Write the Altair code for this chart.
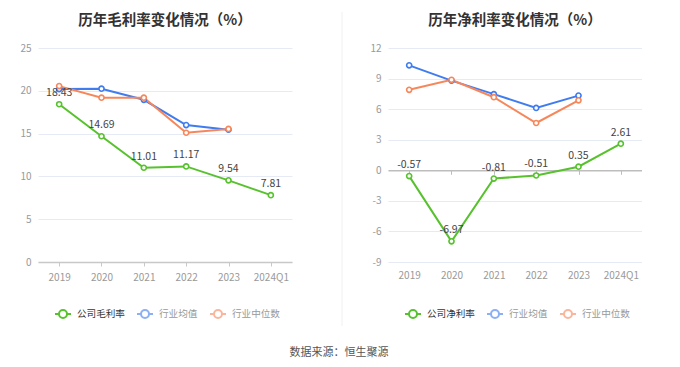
import altair as alt
import pandas as pd

years = ["2019", "2020", "2021", "2022", "2023", "2024Q1"]
hist_years = ["2019", "2020", "2021", "2022", "2023"]

gross_company = [18.43, 14.69, 11.01, 11.17, 9.54, 7.81]
gross_avg = [20.2, 20.25, 18.95, 16.0, 15.45]
gross_median = [20.55, 19.2, 19.2, 15.1, 15.55]

net_company = [-0.57, -6.97, -0.81, -0.51, 0.35, 2.61]
net_avg = [10.3, 8.8, 7.47, 6.12, 7.33]
net_median = [7.9, 8.88, 7.17, 4.64, 6.87]

gross_names = ["公司毛利率", "行业均值", "行业中位数"]
net_names = ["公司净利率", "行业均值", "行业中位数"]
colors = ["#57C22D", "#3F7CF0", "#F7875B"]

FONT = "Noto Sans CJK SC"
W, H = 254, 214
LEGEND_SYMBOL = "M-1,0H-0.5M0.5,0H1M0.5,0A0.5,0.5,0,1,1,-0.5,0A0.5,0.5,0,1,1,0.5,0Z"


def make_df(names, company, avg, median):
    rows = []
    for y, v in zip(years, company):
        rows.append({"year": y, "series": names[0], "value": v, "label": f"{v:.2f}"})
    for y, v in zip(hist_years, avg):
        rows.append({"year": y, "series": names[1], "value": v, "label": ""})
    for y, v in zip(hist_years, median):
        rows.append({"year": y, "series": names[2], "value": v, "label": ""})
    return pd.DataFrame(rows)


def panel(title, names, company, avg, median, ydomain, yticks, zero_axis):
    df = make_df(names, company, avg, median)
    legend = alt.Legend(
        orient="none", legendX=16, legendY=257, direction="horizontal", title=None,
        symbolType=LEGEND_SYMBOL, symbolSize=256, symbolStrokeWidth=2,
        symbolFillColor="white", labelFontSize=9.6, labelFont=FONT,
        columnPadding=8, labelOffset=5,
        labelColor=alt.ExprRef(f"datum.value == '{names[0]}' ? '#333333' : '#999999'"),
        symbolOpacity=alt.ExprRef(f"datum.value == '{names[0]}' ? 1 : 0.6"),
    )
    color = alt.Color("series:N", scale=alt.Scale(domain=names, range=colors), legend=legend)
    ysc = alt.Scale(domain=ydomain, nice=False, zero=False)
    yaxis = alt.Axis(values=yticks, title=None, domain=False, ticks=False, labelColor="#999999",
                     labelFontSize=10, labelFont=FONT, labelPadding=7, gridColor="#E6EAF4",
                     minExtent=30, maxExtent=30, labelExpr="'' + datum.value")
    if zero_axis:
        xaxis = alt.Axis(title=None, domain=False, ticks=False, labelColor="#999999", labelFontSize=10,
                         labelFont=FONT, labelPadding=8, labelAngle=0, grid=False)
    else:
        xaxis = alt.Axis(title=None, domain=True, domainColor="#C8C8C8", domainWidth=1.5, ticks=True,
                         tickColor="#C8C8C8", tickSize=4, labelColor="#999999", labelFontSize=10,
                         labelFont=FONT, labelPadding=6, labelAngle=0, grid=False)
    xs = alt.Scale(type="point", padding=0.5)
    x = alt.X("year:N", sort=years, scale=xs, axis=xaxis)
    y = alt.Y("value:Q", scale=ysc, axis=yaxis)
    base = alt.Chart(df)
    lines = base.mark_line(strokeWidth=2).encode(x=x, y=y, color=color)
    x2 = x
    x3 = x
    if zero_axis:
        off = -H * (0 - ydomain[0]) / (ydomain[1] - ydomain[0])
        x2 = alt.X("year:N", sort=years, scale=xs,
                   axis=alt.Axis(title=None, labels=False, domain=True, domainColor="#BDBDBD",
                                 domainWidth=1.5, ticks=True, tickColor="#BDBDBD", tickSize=4,
                                 grid=False, offset=off, orient="bottom"))
        x3 = alt.X("year:N", sort=years, scale=xs, axis=None)
    points = base.mark_point(filled=False, fill="white", fillOpacity=1, size=26, strokeWidth=1.6, opacity=1).encode(
        x=x2, y=y, color=color)
    texts = base.transform_filter(alt.datum.series == names[0]).mark_text(
        baseline="bottom", dy=-6, fontSize=10.5, font=FONT, color="#444444").encode(
        x=x3, y=y, text="label:N")
    ch = alt.layer(lines, points, texts)
    if zero_axis:
        ch = ch.resolve_axis(x="independent")
    return ch.properties(
        width=W, height=H,
        title=alt.Title(title, fontSize=14.5, fontWeight="bold", color="#333333", font=FONT,
                        offset=15, anchor="middle"))


left = panel("历年毛利率变化情况（%）", gross_names, gross_company, gross_avg, gross_median,
             [0, 25], [0, 5, 10, 15, 20, 25], False)
right = panel("历年净利率变化情况（%）", net_names, net_company, net_avg, net_median,
              [-9, 12], [-9, -6, -3, 0, 3, 6, 9, 12], True)

divider_flag = [1]
divider = alt.Chart(pd.DataFrame({"d": divider_flag})).mark_rule(color="#F0F0F0", strokeWidth=1).encode(
    x=alt.value(4), y=alt.value(-36), y2=alt.value(H + 64)).properties(width=4, height=H)

chart = alt.hconcat(left, divider, right, spacing=46, bounds="flush").resolve_scale(
    x="independent", y="independent", color="independent"
).resolve_legend(color="independent").properties(
    padding={"top": 3, "left": 0, "right": 0, "bottom": 0},
    title=alt.Title("数据来源：恒生聚源", orient="bottom", anchor="middle", fontSize=11,
                    fontWeight="normal", color="#555555", font=FONT, offset=20, dx=14),
).configure_view(stroke=None)

chart.save("out.html", embed_options={"renderer": "svg", "actions": False})
